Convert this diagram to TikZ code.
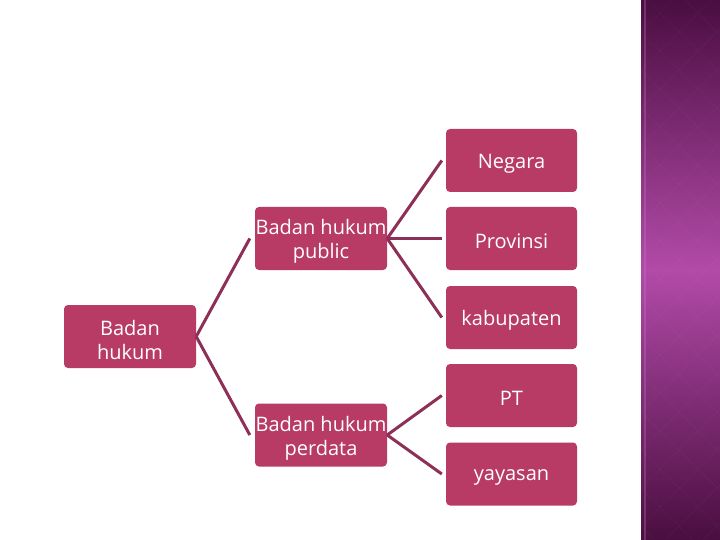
\documentclass[tikz,border=0pt]{standalone}
\usepackage{fontspec}
\setmainfont{Open Sans}
\usepackage{xcolor}
\definecolor{boxfill}{HTML}{B73B64}
\definecolor{linkcol}{HTML}{8E2F57}
\definecolor{stripdark}{HTML}{4A0E40}
\definecolor{stripmid}{HTML}{B24AA8}
\usetikzlibrary{positioning,calc}

\begin{document}
\begin{tikzpicture}[
    x=1pt, y=-1pt,
    boxnode/.style={fill=boxfill, rounded corners=4pt, minimum width=132pt, minimum height=63pt, inner sep=0pt},
    boxtext/.style={text=white, align=center, inner sep=0pt, yshift=-3pt, font=\fontsize{20}{24}\selectfont},
    linkline/.style={draw=linkcol, line width=3pt}
]
    \useasboundingbox (0,0) rectangle (720,540);
    \fill[white] (0,0) rectangle (720,540);

    % side strip
    \shade[top color=stripdark, bottom color=stripdark, middle color=stripmid] (641,0) rectangle (720,540);
    \begin{scope}
        \clip (641,0) rectangle (720,540);
        \foreach \k in {-120,-82,...,660} {
            \draw[white, opacity=0.04] (641,\k) -- (720,\k+79);
            \draw[white, opacity=0.04] (641,\k) -- (720,\k-79);
        }
    \end{scope}
    \draw[stripmid!70!white, opacity=0.3, line width=1.5pt] (645,0) -- (645,540);

    % boxes
    \node[boxnode, label={[boxtext]center:{Badan\\hukum}}] (root) at (130, 336.5) {};
    \node[boxnode, label={[boxtext]center:{Badan hukum\\public}}] (pub) at (321, 238.5) {};
    \node[boxnode, label={[boxtext]center:{Badan hukum\\perdata}}] (per) at (321, 435) {};

    \foreach \name/\y/\txt in {neg/160.5/Negara, prov/238.5/Provinsi, kab/317.5/kabupaten, pt/395.5/PT, yay/474/yayasan}
        \node[boxnode, minimum width=131pt, label={[boxtext]center:\txt}] (\name) at (511.5, \y) {};

    % links
    \foreach \child in {pub, per} \draw[linkline] (root.east) -- ([xshift=-5pt]\child.west);
    \foreach \child in {neg, prov, kab} \draw[linkline] (pub.east) -- ([xshift=-4pt]\child.west);
    \foreach \child in {pt, yay} \draw[linkline] (per.east) -- ([xshift=-4pt]\child.west);
\end{tikzpicture}
\end{document}
